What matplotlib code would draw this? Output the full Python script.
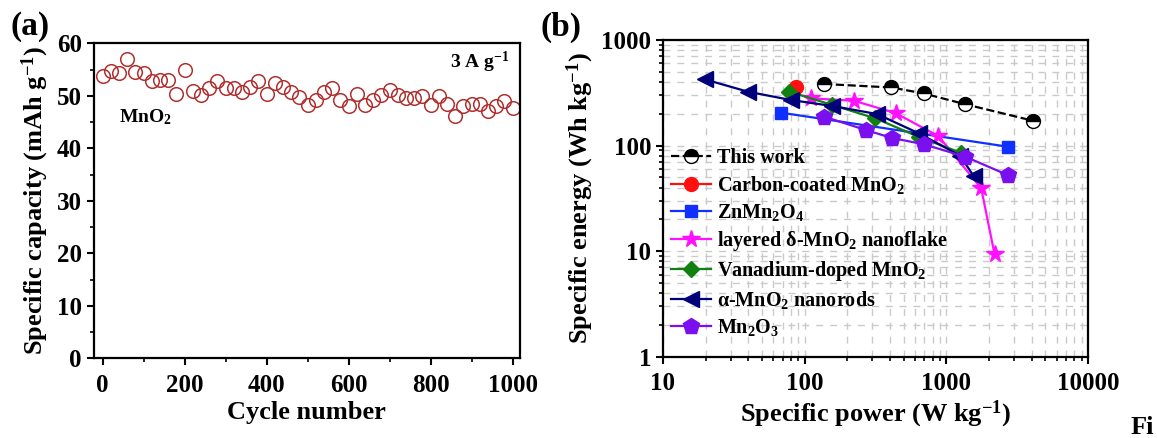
import matplotlib
matplotlib.use("Agg")
import matplotlib.pyplot as plt
import numpy as np

plt.rcParams['font.family'] = ['Liberation Serif', 'DejaVu Serif']
plt.rcParams['font.weight'] = 'bold'
plt.rcParams['mathtext.fontset'] = 'custom'
plt.rcParams['mathtext.rm'] = 'Liberation Serif:bold'
plt.rcParams['mathtext.bf'] = 'Liberation Serif:bold'
plt.rcParams['mathtext.it'] = 'Liberation Serif:bold:italic'
plt.rcParams['axes.linewidth'] = 1.6

# ---------------- data: panel (a) ----------------
cycles = list(range(0, 1001, 20))
capacity = [53.8, 54.7, 54.3, 57.0, 54.5, 54.3, 52.9, 53.1, 53.0, 50.3,
            54.9, 50.9, 50.2, 51.4, 52.9, 51.5, 51.4, 50.8, 51.6, 52.9,
            50.3, 52.4, 51.6, 50.8, 49.8, 48.3, 49.2, 50.7, 51.4, 49.2,
            48.1, 50.3, 48.3, 49.2, 50.2, 51.2, 50.2, 49.5, 49.5, 50.0,
            48.3, 50.0, 48.4, 46.2, 48.1, 48.4, 48.5, 47.2, 48.1, 49.1, 47.6]

# ---------------- data: panel (b) ----------------
this_work_P = [137, 410, 690, 1365, 4080]
this_work_E = [383, 355, 312, 246, 172]
carbon_P = [87]
carbon_E = [361]
znmn_P = [68, 2720]
znmn_E = [205, 97.5]
delta_P = [110, 222, 438, 879, 1762, 2188]
delta_E = [280, 266, 203, 123, 39.5, 9.4]
vdoped_P = [78, 157, 316, 637, 1268]
vdoped_E = [324, 242, 181, 121, 85.5]
alpha_P = [19.7, 39.7, 80, 157, 324, 637, 1248, 1560]
alpha_E = [424, 324, 270, 237, 199, 131, 80.4, 51.4]
mn2o3_P = [137, 272, 413, 690, 1365, 2720]
mn2o3_E = [188, 140, 118, 103, 78.3, 52.5]

W, H = 1157, 438
fig = plt.figure(figsize=(W / 100, H / 100), dpi=100)

def ax_rect(l, r, t, b):
    return [l / W, 1 - b / H, (r - l) / W, (b - t) / H]

SERIF = 'Liberation Serif'

# ---------------- panel (a) ----------------
axa = fig.add_axes(ax_rect(93.6, 519.6, 43.3, 358.3))
axa.plot(cycles, capacity, linestyle='none', marker='o', ms=9.8,
         mfc='none', mec='#b03030', mew=1.1)
axa.set_xlim(-22, 1017)
axa.set_ylim(0, 60)
axa.set_xticks(range(0, 1001, 200))
axa.set_xticks(range(100, 1001, 200), minor=True)
axa.set_yticks(range(0, 61, 10))
axa.set_yticks(range(5, 60, 10), minor=True)
axa.tick_params(which='major', direction='out', length=5, width=1.5,
                labelsize=18, top=False, right=False, labelfontfamily=SERIF)
axa.tick_params(axis='x', which='major', pad=6)
axa.tick_params(which='minor', direction='out', length=3, width=1.2,
                top=False, right=False)
for lab in axa.get_xticklabels() + axa.get_yticklabels():
    lab.set_fontweight('bold')
axa.set_xlabel('Cycle number', fontsize=19, fontweight='bold', labelpad=3)
axa.set_ylabel(r'Specific capacity (mAh g$^{\mathregular{-1}}$)', fontsize=19,
               fontweight='bold', labelpad=4)
axa.text(0.06, 0.765, r'MnO$_{\mathregular{2}}$', transform=axa.transAxes,
         fontsize=14, fontweight='bold', ha='left', va='center')
axa.text(0.975, 0.94, r'3 A g$^{\mathregular{-1}}$', transform=axa.transAxes,
         fontsize=14, fontweight='bold', ha='right', va='center')
fig.text(10 / W, 1 - 27 / H, '(a)', fontsize=24, fontweight='bold',
         ha='left', va='center')

# ---------------- panel (b) ----------------
axb = fig.add_axes(ax_rect(663, 1088, 40, 356.7))
axb.set_xscale('log')
axb.set_yscale('log')
axb.set_xlim(10, 10000)
axb.set_ylim(1, 1000)
axb.grid(True, which='both', linestyle=(0, (5, 5)), color='#cacaca',
         linewidth=1.0)
axb.set_axisbelow(True)

lw = 1.6
axb.plot(this_work_P, this_work_E, linestyle='--', color='black', lw=lw,
         marker='o', ms=10, fillstyle='top', mfc='black', mfcalt='white',
         mec='black', mew=1.0, label='This work', zorder=5)
axb.plot(carbon_P, carbon_E, linestyle='-', color='#ff1010', lw=lw,
         marker='o', ms=10, label=r'Carbon-coated MnO$_{\mathregular{2}}$', zorder=3)
axb.plot(znmn_P, znmn_E, linestyle='-', color='#1030ff', lw=lw,
         marker='s', ms=9, label=r'ZnMn$_{\mathregular{2}}$O$_{\mathregular{4}}$', zorder=4)
axb.plot(delta_P, delta_E, linestyle='-', color='#ff10ff', lw=lw,
         marker='*', ms=13, label=r'layered δ-MnO$_{\mathregular{2}}$ nanoflake', zorder=4)
axb.plot(vdoped_P, vdoped_E, linestyle='-', color='#108010', lw=lw,
         marker='D', ms=8, label=r'Vanadium-doped MnO$_{\mathregular{2}}$', zorder=4)
axb.plot(alpha_P, alpha_E, linestyle='-', color='#00007a', lw=lw,
         marker='<', ms=11, label=r'α-MnO$_{\mathregular{2}}$ nanorods', zorder=4)
axb.plot(mn2o3_P, mn2o3_E, linestyle='-', color='#7a10ee', lw=lw,
         marker='p', ms=12, label=r'Mn$_{\mathregular{2}}$O$_{\mathregular{3}}$', zorder=4)

axb.set_xticks([10, 100, 1000, 10000])
axb.set_xticklabels(['10', '100', '1000', '10000'])
axb.set_yticks([1, 10, 100, 1000])
axb.set_yticklabels(['1', '10', '100', '1000'])
axb.tick_params(which='major', direction='out', length=5, width=1.5,
                labelsize=18, top=False, right=False, labelfontfamily=SERIF)
axb.tick_params(axis='x', which='major', pad=6)
axb.tick_params(which='minor', direction='out', length=3, width=1.2,
                top=False, right=False)
for lab in axb.get_xticklabels() + axb.get_yticklabels():
    lab.set_fontweight('bold')
axb.set_xlabel(r'Specific power (W kg$^{\mathregular{-1}}$)', fontsize=19,
               fontweight='bold', labelpad=3)
axb.set_ylabel(r'Specific energy (Wh kg$^{\mathregular{-1}}$)', fontsize=19,
               fontweight='bold', labelpad=4)
leg = axb.legend(loc='upper left', bbox_to_anchor=(0.0, 0.685), frameon=False,
                 prop={'family': SERIF, 'weight': 'bold', 'size': 14.5},
                 handlelength=2.0, handletextpad=0.3, labelspacing=0.3,
                 borderaxespad=0.2, borderpad=0.2)
fig.text(540 / W, 1 - 27 / H, '(b)', fontsize=24, fontweight='bold',
         ha='left', va='center')
fig.text(1131 / W, 1 - 428 / H, 'Fi', fontsize=19, fontweight='bold',
         ha='left', va='center')

fig.savefig('out.png', dpi=100)
